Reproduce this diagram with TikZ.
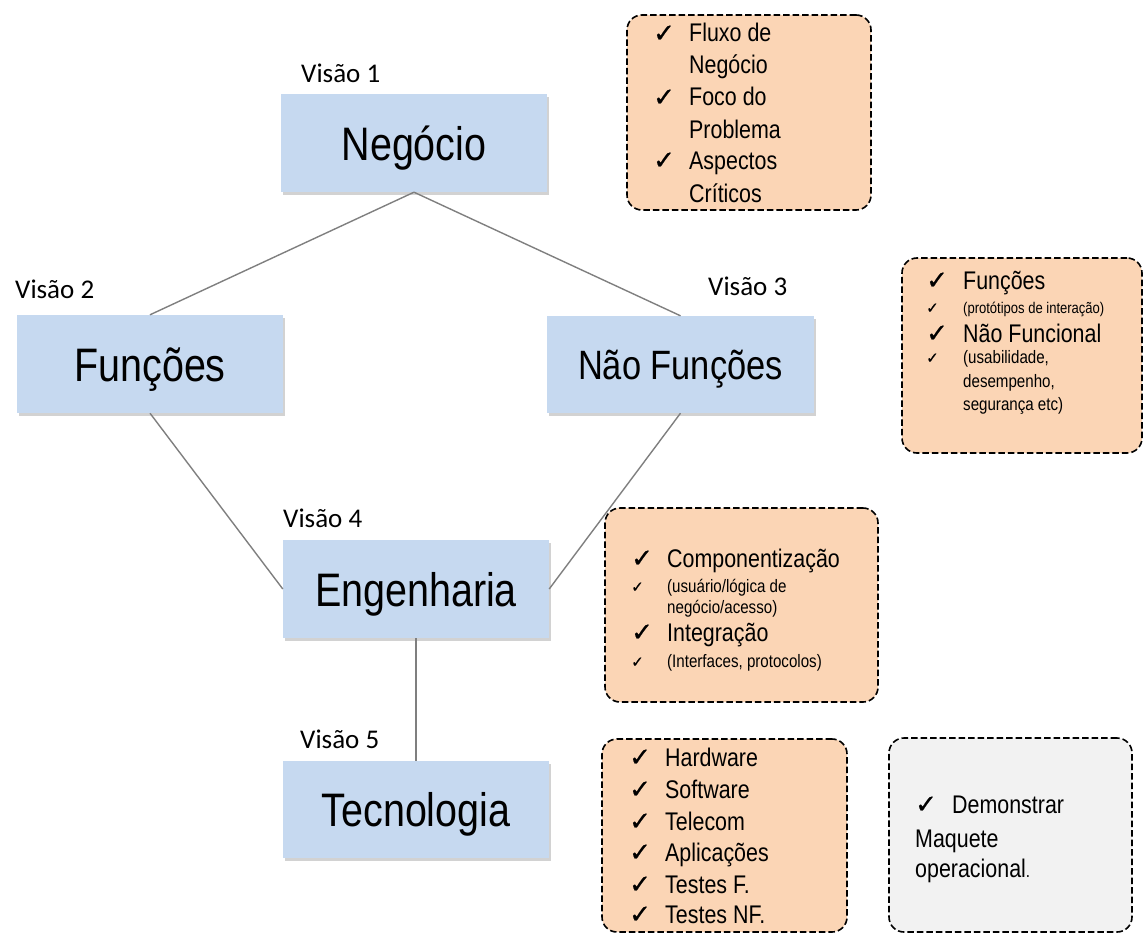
\documentclass[tikz,border=0pt]{standalone}
\usepackage{fontspec}
\setmainfont{Liberation Sans}[FakeStretch=0.84]
\newfontfamily\visfont{Carlito}
\newfontfamily\chkfont{DejaVu Sans}[FakeBold=0.8]
\usetikzlibrary{shadows}
\definecolor{boxblue}{HTML}{C6D9F0}
\definecolor{notepeach}{HTML}{FBD5B5}
\definecolor{notegrey}{HTML}{F2F2F2}
\definecolor{linkgrey}{HTML}{7F7F7F}
\tikzset{
  bluebox/.style={fill=boxblue, minimum width=266pt, minimum height=98pt, inner sep=0pt,
    text height=34pt, text depth=0pt, font=\fontsize{47}{50}\selectfont,
    drop shadow={shadow xshift=2pt, shadow yshift=-3pt, opacity=0.25, fill=black!70}},
  notebox/.style={draw=black, line width=1.6pt, dash pattern=on 6.5pt off 3pt,
    rounded corners=15pt, fill=notepeach, inner sep=0pt},
  link/.style={draw=linkgrey, line width=1.4pt},
  vis/.style={anchor=base west, inner sep=0pt, font=\visfont\fontsize{27}{27}\selectfont},
  txtL/.style={anchor=base west, inner sep=0pt, font=\fontsize{25.5}{26}\selectfont},
  txtS/.style={anchor=base west, inner sep=0pt, font=\fontsize{18}{19}\selectfont},
  txtXS/.style={anchor=base west, inner sep=0pt, font=\fontsize{15.5}{16}\selectfont},
  chkL/.style={anchor=base west, inner sep=0pt, font=\chkfont\fontsize{26}{26}\selectfont},
  chkS/.style={anchor=base west, inner sep=0pt, font=\chkfont\fontsize{15}{15}\selectfont},
}
\begin{document}
\begin{tikzpicture}[x=1pt,y=-1pt]
\useasboundingbox (0,0) rectangle (1143,934);

% main boxes
\node[bluebox] (neg) at (414,143) {Negócio};
\node[bluebox] (fun) at (150,364) {Funções};
\node[bluebox, minimum width=267pt, minimum height=97pt, text height=29pt,
      font=\fontsize{41}{44}\selectfont] (nfun) at (680.5,364.5) {Não Funções};
\node[bluebox] (eng) at (416,589) {Engenharia};
\node[bluebox, minimum height=97pt] (tec) at (416,809.5) {Tecnologia};

% connectors
\draw[link] (neg.south) -- (fun.north);
\draw[link] (neg.south) -- (nfun.north);
\draw[link] (fun.south) -- (eng.west);
\draw[link] (nfun.south) -- (eng.east);
\draw[link] (eng.south) -- (tec.north);

% labels
\node[vis] (v1) at (301,82) {Visão 1};
\node[vis] (v2) at (15,298) {Visão 2};
\node[vis] (v3) at (708,295) {Visão 3};
\node[vis] (v4) at (283,527) {Visão 4};
\node[vis] (v5) at (300,748) {Visão 5};

% note box 1
\node[notebox, minimum width=244pt, minimum height=195pt] (o1) at (749,112.5) {};
\node[chkL] (o1c1) at (653,42) {✓};
\node[txtL] (o1t1) at (689,42) {Fluxo de};
\node[txtL] (o1t2) at (689,74) {Negócio};
\node[chkL] (o1c2) at (653,106) {✓};
\node[txtL] (o1t3) at (689,106) {Foco do};
\node[txtL] (o1t4) at (689,138) {Problema};
\node[chkL] (o1c3) at (653,169) {✓};
\node[txtL] (o1t5) at (689,169) {Aspectos};
\node[txtL] (o1t6) at (689,202) {Críticos};

% note box 2
\node[notebox, minimum width=240pt, minimum height=195pt] (o2) at (1022,355.5) {};
\node[chkL] (o2c1) at (926,289) {✓};
\node[txtL] (o2t1) at (963,289) {Funções};
\node[chkS] (o2c2) at (926,313) {✓};
\node[txtXS] (o2t2) at (963,313) {(protótipos de interação)};
\node[chkL] (o2c3) at (926,342) {✓};
\node[txtL] (o2t3) at (963,342) {Não Funcional};
\node[chkS] (o2c4) at (926,363) {✓};
\node[txtS] (o2t4) at (963,363) {(usabilidade,};
\node[txtS] (o2t5) at (963,387) {desempenho,};
\node[txtS] (o2t6) at (963,410) {segurança etc)};

% note box 3
\node[notebox, minimum width=273pt, minimum height=194pt] (o3) at (741.5,605) {};
\node[chkL] (o3c1) at (631,567) {✓};
\node[txtL] (o3t1) at (667,567) {Componentização};
\node[chkS] (o3c2) at (631,592) {✓};
\node[txtS] (o3t2) at (667,592) {(usuário/lógica de};
\node[txtS] (o3t3) at (667,613) {negócio/acesso)};
\node[chkL] (o3c3) at (631,641) {✓};
\node[txtL] (o3t4) at (667,641) {Integração};
\node[chkS] (o3c4) at (631,667) {✓};
\node[txtS] (o3t5) at (667,667) {(Interfaces, protocolos)};

% note box 4
\node[notebox, minimum width=245pt, minimum height=193pt] (o4) at (724.5,835.5) {};
\node[chkL] (o4c1) at (629,766) {✓};
\node[txtL] (o4t1) at (665,766) {Hardware};
\node[chkL] (o4c2) at (629,798) {✓};
\node[txtL] (o4t2) at (665,798) {Software};
\node[chkL] (o4c3) at (629,830) {✓};
\node[txtL] (o4t3) at (665,830) {Telecom};
\node[chkL] (o4c4) at (629,861) {✓};
\node[txtL] (o4t4) at (665,861) {Aplicações};
\node[chkL] (o4c5) at (629,893) {✓};
\node[txtL] (o4t5) at (665,893) {Testes F.};
\node[chkL] (o4c6) at (629,923) {✓};
\node[txtL] (o4t6) at (665,923) {Testes NF.};

% grey box
\node[notebox, fill=notegrey, minimum width=243pt, minimum height=194pt] (g1) at (1010.5,835) {};
\node[chkL] (g1c1) at (915,813) {✓};
\node[txtL] (g1t1) at (952,813) {Demonstrar};
\node[txtL] (g1t2) at (915,847) {Maquete};
\node[txtL] (g1t3) at (915,877) {operacional{\fontsize{18}{19}\selectfont.}};
\end{tikzpicture}
\end{document}
